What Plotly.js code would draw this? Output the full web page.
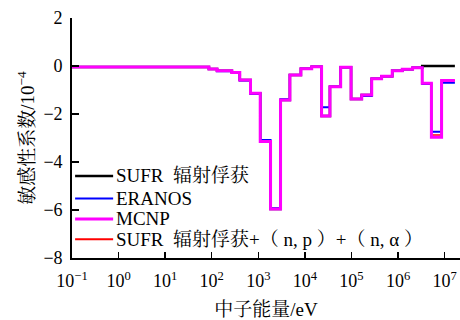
<!DOCTYPE html>
<html>
<head>
<meta charset="utf-8">
<script src="https://cdn.plot.ly/plotly-3.0.1.min.js"></script>
<style>html,body{margin:0;padding:0;background:#fff;}#chart{width:460px;height:320px;}</style>
</head>
<body>
<div id="chart"></div>
<script>
// Energy group boundaries (eV)
var energyBounds = [0.1, 87, 130, 270, 400, 680, 1100, 1830, 3000, 4760, 8200, 14000, 22800, 34500, 58600, 98000, 166000, 272000, 443000, 750000, 1.23e6, 2.05e6, 3.3e6, 5.2e6, 8.6e6, 1.66e7];

// Sensitivity coefficients per group (1e-4)
var mcnp = [-0.04, -0.12, -0.20, -0.27, -0.58, -1.14, -3.15, -5.96, -1.42, -0.38, -0.11, -0.03, -2.08, -0.86, -0.05, -1.38, -1.21, -0.53, -0.43, -0.20, -0.14, -0.07, -0.72, -2.97, -0.60];
var eranos = [-0.04, -0.13, -0.22, -0.25, -0.60, -1.17, -3.08, -5.93, -1.39, -0.38, -0.11, -0.03, -1.72, -0.86, -0.05, -1.38, -1.25, -0.53, -0.43, -0.20, -0.14, -0.07, -0.75, -2.74, -0.70];
var sufrCapture = [-0.04, -0.12, -0.20, -0.27, -0.58, -1.14, -3.15, -5.96, -1.42, -0.38, -0.11, -0.03, -2.08, -0.86, -0.05, -1.38, -1.21, -0.53, -0.43, -0.20, -0.14, -0.07, 0, 0, 0];
var sufrTotal = [-0.04, -0.12, -0.20, -0.27, -0.58, -1.14, -3.15, -5.96, -1.42, -0.38, -0.11, -0.03, -2.08, -0.86, -0.05, -1.38, -1.21, -0.53, -0.43, -0.20, -0.14, -0.07, -0.72, -2.87, -0.60];

var seriesNames = ['SUFR\u00a0\u00a0辐射俘获', 'ERANOS', 'MCNP', 'SUFR\u00a0\u00a0辐射俘获+（\u00a0n, p\u00a0）+（\u00a0n, α\u00a0）'];
var seriesColors = ['#000000', '#0000ff', '#ff00ff', '#ff0000'];

var tickExponents = [-1, 0, 1, 2, 3, 4, 5, 6, 7];
var yTickVals = [-8, -6, -4, -2, 0, 2];

function stepY(v) { return v.concat([v[v.length - 1]]); }

var serif = 'Liberation Serif, Times New Roman, Noto Serif CJK SC, Noto Sans CJK SC, serif';

function tr(idx, vals, width) {
  return {
    x: energyBounds, y: stepY(vals), type: 'scatter', mode: 'lines', name: seriesNames[idx],
    line: {shape: 'hv', color: seriesColors[idx], width: width}, showlegend: false
  };
}

// draw order: black, red, blue, magenta (magenta on top)
var data = [
  tr(0, sufrCapture, 2.5),
  tr(3, sufrTotal, 1.5),
  tr(1, eranos, 2),
  tr(2, mcnp, 3)
];

// legend drawn inside the plot, lower-left
var legendY = [0.342, 0.248, 0.163, 0.078];
var legendWidths = [2.5, 2, 3, 2];
var shapes = [], annotations = [];
for (var i = 0; i < seriesNames.length; i++) {
  shapes.push({type: 'line', xref: 'paper', yref: 'paper', x0: 0.008, x1: 0.106,
    y0: legendY[i], y1: legendY[i], line: {color: seriesColors[i], width: legendWidths[i]}});
  annotations.push({xref: 'paper', yref: 'paper', x: 0.112, y: legendY[i], xanchor: 'left', yanchor: 'middle',
    text: seriesNames[i], showarrow: false, borderpad: 0, font: {family: serif, size: 19, color: '#000'}});
}

var layout = {
  width: 460, height: 320,
  margin: {l: 72, r: 0, t: 18, b: 62},
  paper_bgcolor: '#fff', plot_bgcolor: '#fff',
  font: {family: serif, size: 18, color: '#000'},
  showlegend: false,
  shapes: shapes,
  annotations: annotations,
  xaxis: {
    type: 'log', range: [-1, 7.33],
    tickmode: 'array',
    tickvals: tickExponents.map(function (p) { return Math.pow(10, p); }),
    ticktext: tickExponents.map(function (p) { return '10<sup>' + (p < 0 ? '\u2212' : '') + Math.abs(p) + '</sup>'; }),
    ticks: 'inside', ticklen: 6, tickwidth: 1.5, tickcolor: '#000',
    showline: true, linecolor: '#000', linewidth: 1.8,
    showgrid: false, zeroline: false,
    ticklabelstandoff: 6,
    tickfont: {family: serif, size: 18},
    title: {text: '中子能量/eV', font: {family: serif, size: 19}, standoff: 13}
  },
  yaxis: {
    range: [-8, 2], tickmode: 'array', tickvals: yTickVals,
    ticks: 'inside', ticklen: 7, tickwidth: 1.5, tickcolor: '#000',
    showline: true, linecolor: '#000', linewidth: 1.8,
    showgrid: false, zeroline: false,
    ticklabelstandoff: 4,
    tickfont: {family: serif, size: 18},
    title: {text: '敏感性系数/10<sup>\u22124</sup>', font: {family: serif, size: 19}, standoff: 4}
  }
};

Plotly.newPlot('chart', data, layout, {staticPlot: true, displayModeBar: false});
</script>
</body>
</html>
